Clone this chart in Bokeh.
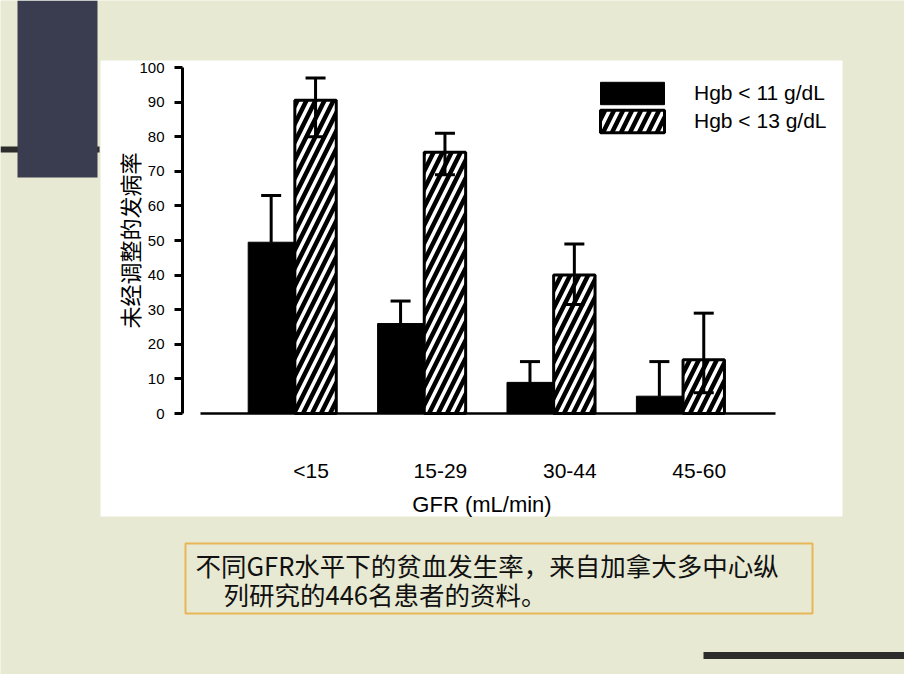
import numpy as np
from bokeh.plotting import figure
from bokeh.models import (Range1d, LinearAxis, FixedTicker, ColumnDataSource,
                          Whisker, TeeHead, Legend, LegendItem)
from bokeh.embed import file_html
from bokeh.resources import INLINE
from bokeh.core.properties import value

# ---------------- data ----------------
groups = ["<15", "15-29", "30-44", "45-60"]
hgb11 = [49.5, 26, 9, 5]
hgb11_upper = [63, 32.5, 15, 15]
hgb13 = [90.5, 75.5, 40, 15.5]
hgb13_lower = [80, 69, 31.5, 6]
hgb13_upper = [97, 81, 49, 29]
y_ticks = [0, 10, 20, 30, 40, 50, 60, 70, 80, 90, 100]
series_labels = ["Hgb < 11 g/dL", "Hgb < 13 g/dL"]
x_title = "GFR (mL/min)"
y_title = "未经调整的发病率"
caption_lines = ["不同GFR水平下的贫血发生率，来自加拿大多中心纵",
                 "列研究的446名患者的资料。"]

# ---------------- layout (canvas pixels) ----------------
W, H = 904, 674
BG = "#e7e9d2"
GROUP_PX = 129.4          # px per group
X0_PX = 293.7             # canvas x of group 0 centre
Y0_PX = 413.0             # canvas y of value 0
UNIT_PX = 3.46            # px per percentage point
YAXIS_PX = 182.0          # canvas x of y axis

x_start = -X0_PX / GROUP_PX
x_end = (W - X0_PX) / GROUP_PX
y_start = (Y0_PX - H) / UNIT_PX
y_end = Y0_PX / UNIT_PX

p = figure(width=W, height=H, x_range=Range1d(x_start, x_end),
           y_range=Range1d(y_start, y_end), x_axis_type=None, y_axis_type=None,
           output_backend="svg", toolbar_location=None, min_border=0,
           background_fill_color=BG, border_fill_color=BG,
           outline_line_color=None)
p.extra_x_ranges = {"px": Range1d(0, W)}
p.extra_y_ranges = {"px": Range1d(H, 0)}

# ---------------- slide decorations ----------------
PX = dict(x_range_name="px", y_range_name="px")
p.quad(left=[100], right=[842], top=[60], bottom=[516], fill_color="white",
       line_color=None, **PX)
p.segment(x0=[0], x1=[99], y0=[149], y1=[149], line_color="#2c2c2c",
          line_width=6, **PX)
p.quad(left=[17], right=[97], top=[0], bottom=[177], fill_color="#3a3c4f",
       line_color=None, **PX)
p.segment(x0=[703], x1=[W], y0=[655], y1=[655], line_color="#2c2c2c",
          line_width=7, **PX)
p.quad(left=[185], right=[812], top=[543], bottom=[613], fill_color=None,
       line_color="#e9b657", line_width=2, **PX)
p.text(x=[195, 223], y=[564, 593], text=caption_lines,
       text_font=value("Noto Sans CJK SC"), text_font_size="25.5px",
       text_color="#111111", text_baseline="middle", text_align="left", **PX)

# ---------------- bars ----------------
idx = np.arange(len(groups), dtype=float)
src11 = ColumnDataSource(dict(x=idx - 0.178, top=hgb11, hi=hgb11_upper))
src13 = ColumnDataSource(dict(x=idx + 0.165, top=hgb13, lo=hgb13_lower,
                              hi=hgb13_upper))

# baseline
p.segment(x0=[200], x1=[775], y0=[0], y1=[0], x_range_name="px",
          line_color="black", line_width=2.5)

r11 = p.vbar(x="x", top="top", bottom=0, width=0.355, source=src11,
             fill_color="black", line_color="black", line_width=1)
r13 = p.vbar(x="x", top="top", bottom=0, width=0.32, source=src13,
             fill_color="white", line_color="black", line_width=3,
             hatch_pattern="/", hatch_color="black", hatch_scale=18,
             hatch_weight=4.5)

w11 = Whisker(source=src11, base="x", lower="top", upper="hi",
              upper_head=TeeHead(size=20, line_width=3, line_color="black"),
              lower_head=TeeHead(size=0, line_alpha=0),
              line_width=3, line_color="black", level="annotation")
w13 = Whisker(source=src13, base="x", lower="lo", upper="hi",
              upper_head=TeeHead(size=20, line_width=3, line_color="black"),
              lower_head=TeeHead(size=20, line_width=3, line_color="black"),
              line_width=3, line_color="black", level="annotation")
p.add_layout(w11)
p.add_layout(w13)

# ---------------- axes ----------------
yaxis = LinearAxis(fixed_location=(YAXIS_PX - X0_PX) / GROUP_PX,
                   bounds=(0, 100), ticker=FixedTicker(ticks=y_ticks),
                   axis_line_width=3, axis_line_color="black",
                   major_tick_line_width=3, major_tick_line_color="black",
                   major_tick_out=8, major_tick_in=0,
                   minor_tick_out=0, minor_tick_in=0,
                   major_label_standoff=10,
                   major_label_text_font="Liberation Sans",
                   major_label_text_font_size="15px",
                   major_label_text_color="black",
                   axis_label=y_title,
                   axis_label_text_font="Noto Sans CJK SC",
                   axis_label_text_font_size="22px",
                   axis_label_text_font_style="normal",
                   axis_label_text_color="black",
                   axis_label_standoff=-9)
p.add_layout(yaxis, "left")

x_tick_pos = [round(i + 0.13, 2) for i in range(len(groups))]
xaxis = LinearAxis(fixed_location=0, ticker=FixedTicker(ticks=x_tick_pos),
                   bounds=(-0.5, 3.4),
                   major_label_overrides={t: g for t, g in zip(x_tick_pos, groups)},
                   axis_line_color=None, major_tick_line_color=None,
                   minor_tick_line_color=None,
                   major_label_standoff=39,
                   major_label_text_font="Liberation Sans",
                   major_label_text_font_size="21px",
                   major_label_text_color="black",
                   axis_label=x_title,
                   axis_label_text_font="Liberation Sans",
                   axis_label_text_font_size="22px",
                   axis_label_text_font_style="normal",
                   axis_label_text_color="black",
                   axis_label_standoff=7)
p.add_layout(xaxis, "below")

# ---------------- legend ----------------
legend = Legend(items=[LegendItem(label=series_labels[0], renderers=[r11]),
                       LegendItem(label=series_labels[1], renderers=[r13])],
                location=(592, 539), orientation="vertical",
                padding=0, margin=0, spacing=0,
                glyph_width=80, glyph_height=28, label_height=28,
                label_standoff=22, label_text_font="Liberation Sans",
                label_text_font_size="21px", label_text_color="black",
                background_fill_alpha=0, border_line_color=None)
p.add_layout(legend)

open("out.html", "w").write(file_html(p, INLINE))
